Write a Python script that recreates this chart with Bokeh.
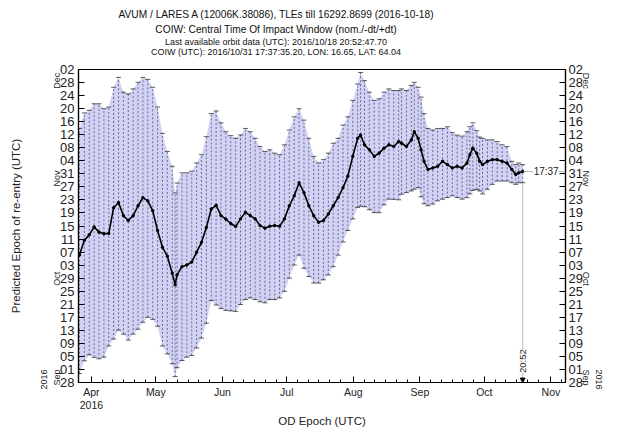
import math
from bokeh.plotting import figure
from bokeh.models import (LinearAxis, FixedTicker, CustomJSTickFormatter, Label,
                          Range1d, ColumnDataSource, Div)
from bokeh.layouts import column
from bokeh.embed import file_html
from bokeh.resources import INLINE

# ---------------- data (2016 day-of-year, TLE style) ----------------
od_epoch_doy = [86.45, 88.73, 91.00, 93.27, 95.55, 97.82, 100.09, 102.36, 104.64, 106.91,
                109.18, 111.45, 113.73, 116.00, 118.27, 120.55, 122.82, 125.09, 127.36, 129.64,
                131.00, 131.91, 134.18, 136.45, 138.73, 141.00, 143.27, 145.55, 147.82, 150.09,
                152.36, 154.64, 156.91, 159.18, 161.45, 163.73, 166.00, 168.27, 170.55, 172.82,
                175.09, 177.36, 179.64, 181.91, 184.18, 186.45, 188.73, 191.00, 193.27, 195.55,
                197.82, 200.09, 202.36, 204.64, 206.91, 209.18, 211.45, 213.73, 216.00, 217.36,
                219.18, 221.45, 223.73, 226.00, 228.27, 230.55, 232.82, 235.09, 236.45, 238.73,
                241.00, 242.36, 244.18, 245.55, 246.91, 248.73, 251.00, 253.27, 255.55, 257.82,
                260.09, 262.36, 264.64, 266.91, 268.27, 269.64, 271.45, 272.82, 274.18, 276.45,
                278.73, 281.00, 283.27, 285.55, 287.82, 289.64, 291.00, 292.8699]

coiw_plus_dt = [318.92, 323.68, 324.50, 326.49, 326.49, 324.98, 325.50, 331.55, 334.58, 330.04,
                329.52, 331.04, 333.07, 334.58, 333.97, 331.55, 325.50, 317.41, 311.87, 307.32,
                299.15, 302.18, 305.30, 305.30, 305.81, 308.32, 310.87, 316.41, 323.47, 324.28,
                320.65, 317.92, 316.71, 315.89, 316.92, 318.92, 317.92, 315.89, 313.38, 311.87,
                312.38, 311.35, 310.87, 313.90, 318.44, 322.47, 324.98, 321.47, 315.89, 310.35,
                308.32, 309.35, 311.35, 314.38, 315.89, 319.95, 322.47, 327.52, 332.55, 336.09,
                333.58, 330.04, 327.52, 328.01, 330.04, 331.04, 330.55, 330.55, 331.04, 330.55,
                332.07, 333.07, 331.55, 328.52, 323.47, 318.92, 318.44, 318.92, 318.92, 319.44,
                317.62, 316.86, 316.56, 317.92, 319.44, 320.65, 318.23, 316.26, 315.89, 315.41,
                315.41, 314.90, 313.90, 313.38, 308.84, 307.84, 308.32, 307.84]

coiw_nom = [280.07, 284.61, 286.28, 288.70, 287.12, 286.64, 286.73, 294.60, 296.21, 292.18,
            290.67, 292.18, 295.21, 297.72, 296.72, 293.70, 287.64, 282.49, 279.76, 274.53,
            270.98, 274.01, 276.52, 277.04, 277.95, 280.98, 284.00, 288.55, 294.21, 295.36,
            292.18, 291.12, 289.76, 288.85, 291.18, 293.18, 292.18, 291.18, 289.15, 288.34,
            288.94, 289.15, 288.94, 291.18, 295.21, 298.24, 302.27, 299.24, 295.21, 292.18,
            290.15, 290.67, 292.70, 295.21, 297.72, 300.75, 304.30, 310.35, 315.89, 316.92,
            313.90, 312.38, 310.35, 311.35, 312.87, 313.90, 313.38, 314.90, 314.38, 313.38,
            315.41, 317.92, 315.89, 312.38, 308.84, 306.32, 306.81, 307.32, 308.84, 307.84,
            306.81, 307.32, 306.81, 308.32, 310.87, 312.87, 311.35, 308.84, 307.84, 308.84,
            309.35, 309.35, 308.84, 308.32, 306.32, 304.81, 305.30, 305.7344]

coiw_minus_dt = [243.73, 247.66, 249.48, 248.72, 248.27, 248.78, 252.21, 254.33, 257.05, 255.84,
                 254.02, 255.84, 257.35, 259.47, 260.99, 260.38, 258.26, 252.21, 249.78, 246.75,
                 242.82, 245.54, 247.75, 248.78, 249.27, 251.60, 254.63, 259.17, 266.14, 264.77,
                 263.71, 263.11, 262.96, 262.81, 264.93, 266.44, 266.95, 266.44, 265.74, 265.44,
                 266.44, 266.44, 266.95, 268.95, 273.01, 277.04, 280.07, 276.04, 273.50, 271.50,
                 271.50, 272.50, 274.01, 276.52, 280.07, 284.10, 287.64, 291.18, 294.70, 295.06,
                 294.91, 294.00, 293.09, 293.09, 295.51, 297.24, 297.18, 297.03, 298.75, 299.24,
                 299.75, 300.27, 300.75, 297.94, 295.82, 295.21, 295.72, 296.72, 297.24, 297.72,
                 298.24, 297.72, 297.24, 297.72, 298.84, 299.90, 300.21, 299.75, 298.84, 300.27,
                 301.78, 302.78, 302.78, 302.78, 302.27, 301.78, 302.27, 302.27]

x_tick_labels = ["Apr", "May", "Jun", "Jul", "Aug", "Sep", "Oct", "Nov"]
x_tick_doy = [92, 122, 153, 183, 214, 245, 275, 306]
y_tick_labels = ["28", "01", "05", "09", "13", "17", "21", "25", "29", "03", "07", "11", "15",
                 "19", "23", "27", "31", "04", "08", "12", "16", "20", "24", "28", "02"]
y_tick_start_doy = 241  # 2016-08-28
y_month_labels = ["Sep", "Oct", "Nov", "Dec"]
y_month_doy = [245, 275, 306, 336]
year_label = "2016"

title_lines = [
    "AVUM / LARES A (12006K.38086), TLEs till 16292.8699 (2016-10-18)",
    "COIW: Central Time Of Impact Window (nom./-dt/+dt)",
    "Last available orbit data (UTC): 2016/10/18 20:52:47.70",
    "COIW (UTC): 2016/10/31 17:37:35.20, LON: 16.65, LAT: 64.04",
]

# ---------------- helpers ----------------
EPOCH_2016_MS = 1451606400000.0
DAY_MS = 86400000.0


def ms(doy):
    return EPOCH_2016_MS + (doy - 1.0) * DAY_MS


def hhmm(doy):
    frac = doy - math.floor(doy)
    mins = int(frac * 24 * 60)
    return "%02d:%02d" % (mins // 60, mins % 60)


FONT = "Liberation Sans"
W = 607
DIV_H = 56
H = 429 - DIV_H
FL, FR, FT, FB = 78, 40, 13, 45
FW, FH = W - FL - FR, H - FT - FB

x0, x1 = ms(86.0), ms(86.0 + 226.8)
y0, y1 = ms(241.0), ms(337.0)
dx_px = (x1 - x0) / FW
dy_px = (y1 - y0) / FH

# ---------------- title block ----------------
specs = [(10.2, 18.5), (10.2, 34.0), (9.0, 46.0), (9.0, 55.5)]
inner = ""
for t, (fs, base) in zip(title_lines, specs):
    top = base - 0.8465 * fs
    inner += ('<div style="position:absolute;left:0;width:552px;top:%.1fpx;text-align:center;'
              'font-size:%.1fpx;line-height:1;white-space:nowrap;">%s</div>' % (top, fs, t))
html = ('<div style="position:relative;width:%dpx;height:%dpx;font-family:\'Liberation Sans\','
        'Arial,sans-serif;color:#111111;">%s</div>' % (W, DIV_H, inner))
title_div = Div(text=html, width=W, height=DIV_H, margin=(0, 0, 0, 0))

# ---------------- figure ----------------
xs = [ms(d) for d in od_epoch_doy]
src = ColumnDataSource(dict(
    x=xs,
    nom=[ms(d) for d in coiw_nom],
    lo=[ms(d) for d in coiw_minus_dt],
    hi=[ms(d) for d in coiw_plus_dt],
))

p = figure(width=W, height=H, x_range=Range1d(x0, x1), y_range=Range1d(y0, y1),
           output_backend="svg", toolbar_location=None,
           x_axis_location=None, y_axis_location=None,
           min_border_left=FL, min_border_right=FR, min_border_top=FT, min_border_bottom=FB,
           background_fill_color="white", border_fill_color="white",
           outline_line_color="black", outline_line_width=1.2)
p.xgrid.visible = False
p.ygrid.visible = False

# impact window envelope (nom - dt .. nom + dt)
p.varea(x="x", y1="lo", y2="hi", source=src, fill_color="#d2d2f6", fill_alpha=1.0)
p.segment(x0="x", y0="lo", x1="x", y1="hi", source=src, line_color="#4a4a66",
          line_width=0.9, line_dash="2 2", line_alpha=0.85)
p.scatter(x="x", y="hi", source=src, marker="dash", size=5, line_color="#333333", line_width=0.8)
p.scatter(x="x", y="lo", source=src, marker="dash", size=5, line_color="#333333", line_width=0.8)

# nominal COIW
p.line(x="x", y="nom", source=src, line_color="black", line_width=1.6)
p.scatter(x="x", y="nom", source=src, marker="circle", size=2.5, color="black")

# last epoch guides
last_x = xs[-1]
last_nom = ms(coiw_nom[-1])
last_lo = ms(coiw_minus_dt[-1])
p.segment(x0=[last_x], y0=[y0], x1=[last_x], y1=[last_lo], line_color="#777777",
          line_width=1, line_dash="1 1")
p.segment(x0=[last_x], y0=[last_nom], x1=[x1], y1=[last_nom], line_color="#777777",
          line_width=1, line_dash="1 1")
p.scatter(x=[last_x], y=[y0 + 3 * dy_px], marker="inverted_triangle", size=5, color="black")

p.add_layout(Label(x=last_x, y=y0 + 21.5 * dy_px, text=hhmm(od_epoch_doy[-1]), angle=math.pi / 2,
                   text_align="center", text_baseline="middle", text_font=FONT,
                   text_font_size="9.5px", text_color="#222222",
                   background_fill_color="white", background_fill_alpha=1.0))
p.add_layout(Label(x=last_x + 11 * dx_px, y=last_nom, text=hhmm(coiw_nom[-1]),
                   text_align="left", text_baseline="middle", text_font=FONT,
                   text_font_size="10px", text_color="#222222",
                   background_fill_color="white", background_fill_alpha=1.0))

# ---------------- axes ----------------
fmt_code = """
let best = 0; let bd = Infinity;
for (let i = 0; i < vals.length; i++) {
  const d = Math.abs(vals[i] - tick);
  if (d < bd) { bd = d; best = i; }
}
return bd < 3600000 ? labs[best] : "";
"""


def fmt(vals, labs):
    return CustomJSTickFormatter(args=dict(vals=vals, labs=labs), code=fmt_code)


def label_axis(vals, labs, orient, size, **kw):
    return LinearAxis(ticker=FixedTicker(ticks=vals, minor_ticks=[]), formatter=fmt(vals, labs),
                      axis_line_color=None, major_tick_line_color=None,
                      minor_tick_line_color=None, major_tick_in=0, major_tick_out=0,
                      major_label_standoff=0, major_label_orientation=orient,
                      major_label_text_font=FONT, major_label_text_font_size=size,
                      major_label_text_color="#222222", **kw)


# bottom: months
x_major = [ms(d) for d in x_tick_doy]
month_start = [61, 92, 122, 153, 183, 214, 245, 275, 306]
x_minor = [ms(m + dd - 1) for m in month_start for dd in (6, 11, 16, 21, 26)]
x_minor = [v for v in x_minor if x0 <= v <= x1]

xax = LinearAxis(ticker=FixedTicker(ticks=x_major, minor_ticks=x_minor),
                 formatter=fmt(x_major, x_tick_labels),
                 major_tick_in=6, major_tick_out=0, minor_tick_in=3, minor_tick_out=0,
                 major_label_standoff=3, major_label_text_font=FONT,
                 major_label_text_font_size="10.5px", major_label_text_color="#222222",
                 axis_line_color="black", major_tick_line_color="black",
                 minor_tick_line_color="black", axis_line_width=1.2)
p.add_layout(xax, "below")
xyear = label_axis([x_major[0]], [year_label], "horizontal", "10.5px",
                   axis_label="OD Epoch (UTC)", axis_label_standoff=3,
                   axis_label_text_font=FONT, axis_label_text_font_size="11.5px",
                   axis_label_text_font_style="normal", axis_label_text_color="#222222")
p.add_layout(xyear, "below")

# left / right: days, months, year
y_ticks = [ms(y_tick_start_doy + 4 * i) for i in range(len(y_tick_labels))]
y_month_ticks = [ms(d) for d in y_month_doy]
for side, ang in (("left", math.pi / 2), ("right", -math.pi / 2)):
    yax = LinearAxis(ticker=FixedTicker(ticks=y_ticks, minor_ticks=[]),
                     formatter=fmt(y_ticks, y_tick_labels),
                     major_tick_in=6, major_tick_out=0, major_label_standoff=4 if side == "left" else 3,
                     major_label_text_font=FONT, major_label_text_font_size="13px",
                     major_label_text_color="#222222",
                     axis_line_color="black", major_tick_line_color="black",
                     axis_line_width=1.2)
    p.add_layout(yax, side)
    p.add_layout(label_axis(y_month_ticks, y_month_labels, ang, "9px"), side)
    extra = {}
    if side == "left":
        extra = dict(axis_label="Predicted Epoch of re-entry (UTC)", axis_label_standoff=14,
                     axis_label_text_font=FONT, axis_label_text_font_size="11.5px",
                     axis_label_text_font_style="normal", axis_label_text_color="#222222")
    p.add_layout(label_axis([y_month_ticks[0]], [year_label], ang, "9px", **extra), side)

layout = column(title_div, p, spacing=0)
open("out.html", "w").write(file_html(layout, INLINE))
